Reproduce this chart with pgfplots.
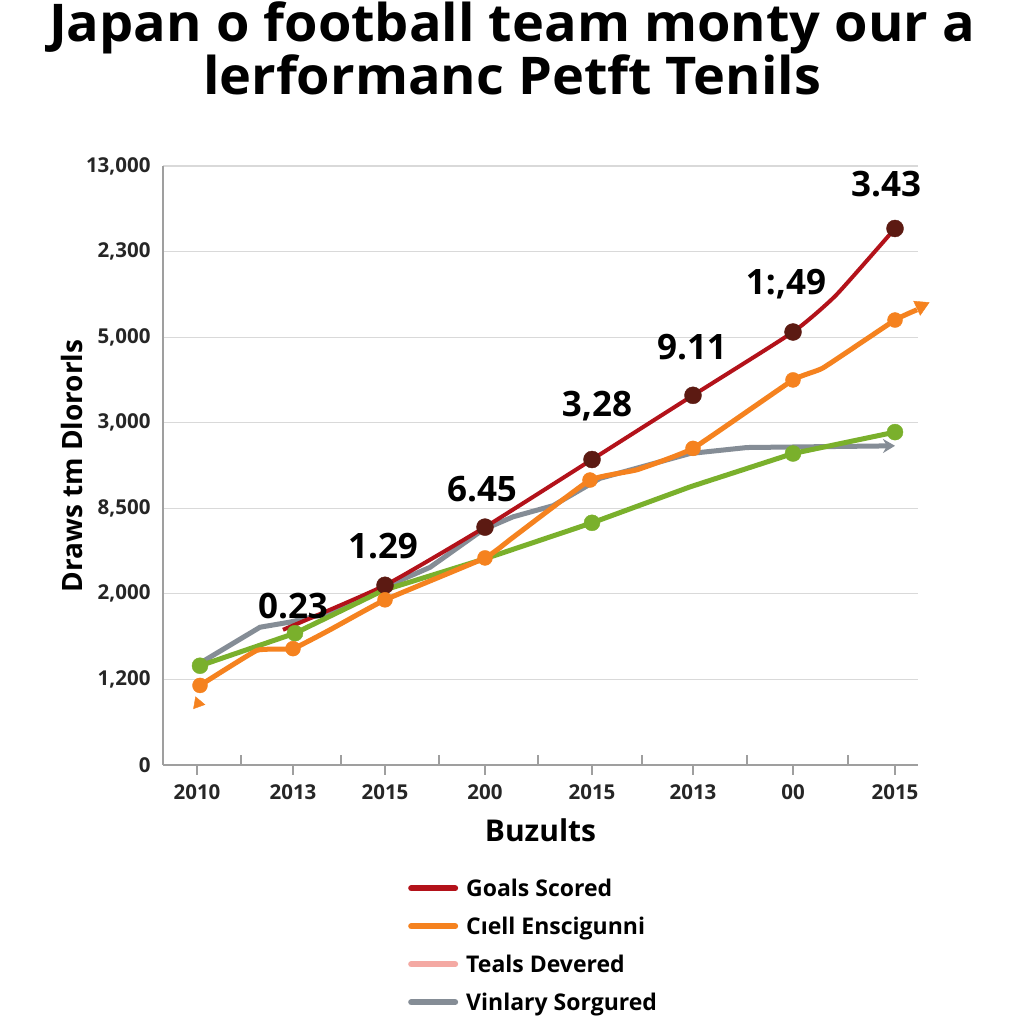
\documentclass[border=0pt]{standalone}
\usepackage{pgfplots}
\pgfplotsset{compat=1.18}
\usepackage{fontspec}
\setmainfont{Open Sans}
\usetikzlibrary{arrows.meta}

\definecolor{goalred}{HTML}{B3121A}
\definecolor{goaldark}{HTML}{5C1A12}
\definecolor{cellorange}{HTML}{F5821F}
\definecolor{tealgreen}{HTML}{7AB02C}
\definecolor{vingray}{HTML}{858D96}
\definecolor{tealpink}{HTML}{F4A9A3}

\begin{document}
\begin{tikzpicture}
\path[use as bounding box, fill=white] (0pt,0pt) rectangle (1024pt,1024pt);

\node[anchor=base, font=\fontsize{52}{56}\selectfont\bfseries] at (512pt,982pt) {\scalebox{1.04}[1]{Japan o football team monty our a}};
\node[anchor=base, font=\fontsize{52}{56}\selectfont\bfseries] at (512pt,929pt) {\scalebox{1.04}[1]{lerformanc Petft Tenils}};

\begin{axis}[
  at={(163pt,259pt)}, anchor=south west,
  scale only axis, width=755pt, height=599pt,
  xmin=-0.34, xmax=7.21, ymin=0, ymax=7,
  clip=false,
  axis x line*=bottom, axis y line*=left,
  axis line style={draw=gray!75, line width=1.5pt},
  ytick={0,...,7},
  yticklabels={0,{1,200},{2,000},{8,500},{3,000},{5,000},{2,300},{13,000}},
  ytick style={draw=none},
  ymajorgrids, grid style={gray!30, line width=1.2pt},
  xtick={0,0.96,1.88,2.88,3.95,4.96,5.96,6.98},
  xticklabels={2010,2013,2015,200,2015,2013,00,2015},
  xtick style={draw=gray!75, line width=1.2pt},
  tick align=outside, major tick length=10pt,
  extra x ticks={0.44,1.44,2.42,3.41,4.45,5.50,6.51},
  extra x tick labels={},
  extra x tick style={tick align=inside, grid=none},
  ticklabel style={font=\fontsize{20.5}{24}\selectfont\bfseries, text=black!85},
  yticklabel style={xshift=1pt},
  xticklabel style={yshift=-6pt},
  xlabel={Buzults},
  xlabel style={at={(axis description cs:0.5,-0.1085)}, anchor=center,
    font=\fontsize{30}{34}\selectfont\bfseries},
  ylabel={Draws tm Dlororls},
  ylabel style={at={(axis description cs:-0.1205,0.499)}, anchor=center,
    font=\fontsize{28}{32}\selectfont\bfseries},
  legend style={at={(axis description cs:0.3205,-0.183)}, anchor=north west,
    draw=none, fill=none, font=\fontsize{23}{27}\selectfont\bfseries,
    row sep=15pt, legend cell align=left,
    nodes={inner xsep=8pt}},
  legend image code/.code={\draw[#1, line width=6pt, line cap=round] (0pt,0pt) -- (44pt,0pt);},
]

% Vinlary Sorgured (grey)
\addplot[forget plot, vingray, line width=5pt, -{Stealth[length=12pt,width=14pt]}] coordinates {
  (0.03,1.19)(0.63,1.61)(0.93,1.67)(1.33,1.78)(1.86,2.07)(2.33,2.31)(2.86,2.75)
  (3.16,2.90)(3.56,3.03)(4.03,3.35)(4.93,3.64)(5.50,3.71)(6.98,3.73)};

% Goals Scored (red)
\addplot[forget plot, goalred, line width=4pt, smooth, tension=0.3] coordinates {
  (0.86,1.58)(1.88,2.10)(2.88,2.78)(3.95,3.57)(4.96,4.32)(5.96,5.06)(6.39,5.49)(6.98,6.27)};
\addplot[forget plot, only marks, mark=*, mark size=8.5pt, goaldark] coordinates {
  (1.88,2.10)(2.88,2.78)(3.95,3.57)(4.96,4.32)(5.96,5.06)(6.98,6.27)};

% green series
\addplot[forget plot, tealgreen, line width=5pt] coordinates {
  (0.03,1.16)(0.98,1.54)(1.86,2.04)(2.88,2.41)(3.95,2.83)(4.93,3.25)(5.96,3.64)(6.98,3.89)};
\addplot[forget plot, only marks, mark=*, mark size=8pt, tealgreen] coordinates {
  (0.03,1.16)(0.98,1.54)(3.95,2.83)(5.96,3.64)(6.98,3.89)};

% Cell Enscigunni (orange)
\addplot[forget plot, cellorange, line width=5pt, smooth, tension=0.2] coordinates {
  (0.03,0.93)(0.60,1.34)(0.96,1.36)(1.33,1.58)(1.88,1.93)(2.88,2.42)(3.16,2.66)
  (3.93,3.33)(4.40,3.45)(4.96,3.70)(5.96,4.50)(6.26,4.64)(6.98,5.20)(7.20,5.32)};
\addplot[forget plot, only marks, mark=*, mark size=7.5pt, cellorange] coordinates {
  (0.03,0.93)(0.96,1.36)(1.88,1.93)(2.88,2.42)(3.93,3.33)(4.96,3.70)(5.96,4.50)(6.98,5.20)};
\addplot[forget plot, only marks, mark=triangle*, mark size=9pt, cellorange,
  mark options={rotate=-65}] coordinates {(7.24,5.36)};
\addplot[forget plot, only marks, mark=triangle*, mark size=7pt, cellorange,
  mark options={rotate=140}] coordinates {(0.01,0.72)};

% value labels
\begin{scope}[every node/.style={font=\fontsize{35}{38}\selectfont\bfseries, text=black}]
\node at (axis cs:0.96,1.86) {0.23};
\node at (axis cs:1.86,2.56) {1.29};
\node at (axis cs:2.85,3.22) {6.45};
\node at (axis cs:4.00,4.19) {3,28};
\node at (axis cs:4.95,4.88) {9.11};
\node at (axis cs:5.89,5.62) {1:,49};
\node at (axis cs:6.89,6.79) {3.43};
\end{scope}

\addlegendimage{goalred}\addlegendentry{Goals Scored}
\addlegendimage{cellorange}\addlegendentry{Cıell Enscigunni}
\addlegendimage{tealpink}\addlegendentry{Teals Devered}
\addlegendimage{vingray}\addlegendentry{Vinlary Sorgured}
\end{axis}
\end{tikzpicture}
\end{document}
